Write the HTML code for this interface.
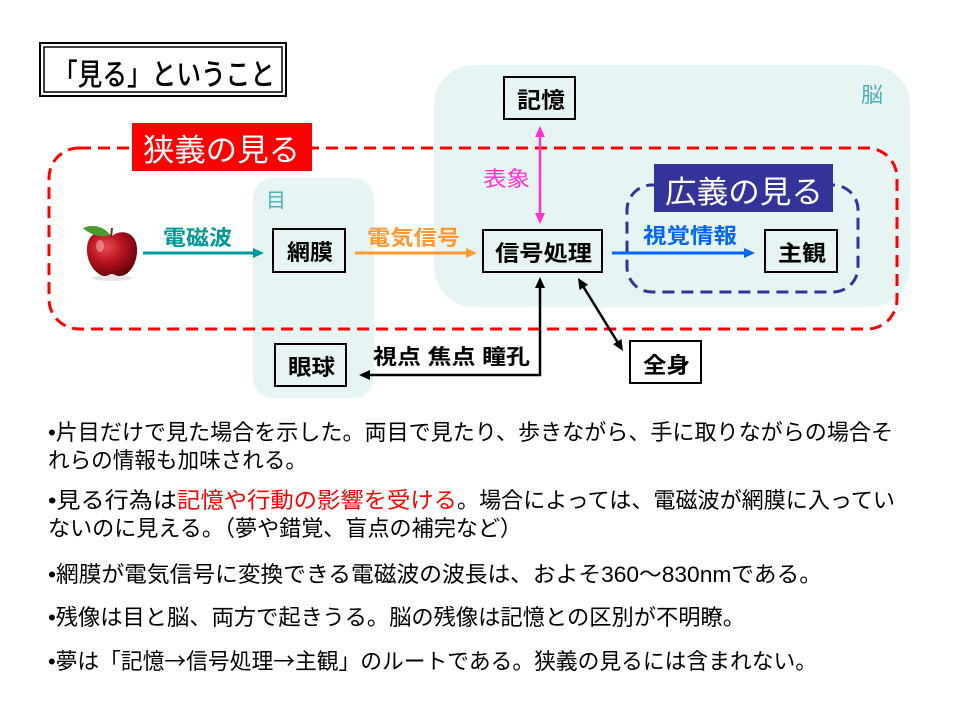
<!DOCTYPE html>
<html><head><meta charset="utf-8"><style>
html,body{margin:0;padding:0;background:#fff;}
svg{display:block;}
text{font-family:"Liberation Sans","Noto Sans CJK JP",sans-serif;}
.cjk{font-family:"Noto Sans CJK JP",sans-serif;}
</style></head><body>
<svg width="960" height="720" viewBox="0 0 960 720" xmlns="http://www.w3.org/2000/svg">
<defs>
<radialGradient id="ag" cx="0.38" cy="0.35" r="0.75">
<stop offset="0" stop-color="#ec4a52"/>
<stop offset="0.45" stop-color="#b81420"/>
<stop offset="1" stop-color="#560008"/>
</radialGradient>
</defs>
<rect width="960" height="720" fill="#fff"/>

<!-- Title -->
<rect x="40" y="43" width="246" height="53" fill="#fff" stroke="#000" stroke-width="2"/>
<rect x="44" y="47" width="238" height="45" fill="none" stroke="#000" stroke-width="1.5"/>
<text x="53" y="85" font-size="30" font-weight="500" textLength="222" lengthAdjust="spacingAndGlyphs" fill="#000">「見る」ということ</text>

<!-- Regions -->
<rect x="434" y="65" width="476" height="242" rx="40" fill="#E7F4F4"/>
<rect x="253" y="178" width="121" height="220" rx="20" fill="#E7F4F4"/>
<text x="861" y="102" font-size="21" fill="#4FAFB8" textLength="22" lengthAdjust="spacingAndGlyphs">脳</text>
<text x="266" y="207" font-size="20" fill="#4FAFB8">目</text>

<!-- Red dashed -->
<rect x="49" y="148" width="848" height="181" rx="30" fill="none" stroke="#FF0000" stroke-width="3" stroke-dasharray="12 7"/>
<rect x="132" y="123" width="180" height="48" fill="#FF0000"/>
<text x="143" y="161" font-size="31" fill="#fff" textLength="157" lengthAdjust="spacingAndGlyphs">狭義の見る</text>

<!-- Blue dashed -->
<rect x="627" y="185" width="231" height="107" rx="25" fill="none" stroke="#333399" stroke-width="3" stroke-dasharray="12 7"/>
<rect x="654" y="164" width="179" height="48" fill="#333399"/>
<text x="665" y="203" font-size="31" fill="#fff" textLength="158" lengthAdjust="spacingAndGlyphs">広義の見る</text>

<!-- Apple -->
<ellipse cx="112" cy="278" rx="20" ry="3" fill="#e4e4e4"/>
<path d="M112,236 C104,229 88,230 87,248 C86,264 98,277 106,276 C109,275 111,274 112,274 C114,274 116,276 119,276 C128,277 138,264 137,248 C136,231 120,229 112,236 Z" fill="url(#ag)"/>
<ellipse cx="100" cy="246" rx="4" ry="6" fill="#fff" opacity="0.35"/>
<line x1="111" y1="237" x2="112" y2="228" stroke="#5a3a10" stroke-width="2"/>
<path d="M110,235 C104,226 92,224 83,228 C90,235 102,238 110,235 Z" fill="#4a9a30"/>

<!-- Boxes -->
<rect x="273" y="229" width="72" height="43" fill="none" stroke="#000" stroke-width="2"/>
<text x="287" y="260" font-size="22" font-weight="700" textLength="46" lengthAdjust="spacingAndGlyphs">網膜</text>
<rect x="504" y="77" width="71" height="42" fill="none" stroke="#000" stroke-width="2"/>
<text x="517" y="108" font-size="22" font-weight="700" textLength="48" lengthAdjust="spacingAndGlyphs">記憶</text>
<rect x="483" y="230" width="119" height="42" fill="none" stroke="#000" stroke-width="2"/>
<text x="495" y="261" font-size="22" font-weight="700" textLength="97" lengthAdjust="spacingAndGlyphs">信号処理</text>
<rect x="765" y="230" width="72" height="42" fill="none" stroke="#000" stroke-width="2"/>
<text x="778" y="261" font-size="22" font-weight="700" textLength="48" lengthAdjust="spacingAndGlyphs">主観</text>
<rect x="275" y="344" width="71" height="42" fill="none" stroke="#000" stroke-width="2"/>
<text x="288" y="375" font-size="22" font-weight="700" textLength="47" lengthAdjust="spacingAndGlyphs">眼球</text>
<rect x="630" y="341" width="71" height="42" fill="#fff" stroke="#000" stroke-width="2"/>
<text x="643" y="373" font-size="22" font-weight="700" textLength="47" lengthAdjust="spacingAndGlyphs">全身</text>

<!-- Teal arrow -->
<line x1="143" y1="253" x2="255" y2="253" stroke="#009999" stroke-width="3"/>
<polygon points="264,253 253,248 253,258" fill="#009999"/>
<text x="163" y="245" font-size="21" font-weight="700" fill="#009999" textLength="69" lengthAdjust="spacingAndGlyphs">電磁波</text>

<!-- Orange arrow -->
<line x1="355" y1="253" x2="468" y2="253" stroke="#FF9933" stroke-width="3"/>
<polygon points="477,253 466,248 466,258" fill="#FF9933"/>
<text x="367" y="245" font-size="21" font-weight="700" fill="#FF9933" textLength="93" lengthAdjust="spacingAndGlyphs">電気信号</text>

<!-- Blue arrow -->
<line x1="612" y1="253" x2="746" y2="253" stroke="#0066FF" stroke-width="3"/>
<polygon points="755,253 744,248 744,258" fill="#0066FF"/>
<text x="643" y="243" font-size="21" font-weight="700" fill="#0066FF" textLength="94" lengthAdjust="spacingAndGlyphs">視覚情報</text>

<!-- Pink double arrow -->
<line x1="540" y1="135" x2="540" y2="215" stroke="#FF33CC" stroke-width="2.5"/>
<polygon points="540,126 535,137 545,137" fill="#FF33CC"/>
<polygon points="540,224 535,213 545,213" fill="#FF33CC"/>
<text x="483" y="186" font-size="21" fill="#FF33CC" textLength="47" lengthAdjust="spacingAndGlyphs">表象</text>

<!-- Black elbow arrow -->
<polyline points="540,287 540,375 369,375" fill="none" stroke="#000" stroke-width="2.5"/>
<polygon points="540,277 535,288 545,288" fill="#000"/>
<polygon points="359,375 370,370 370,380" fill="#000"/>
<text x="373" y="364" font-size="21" font-weight="700" textLength="157" lengthAdjust="spacingAndGlyphs">視点 焦点 瞳孔</text>

<!-- Diagonal arrow -->
<line x1="583.8" y1="287.4" x2="617.2" y2="341.6" stroke="#000" stroke-width="2.5"/>
<polygon points="578,278 579.5,290 588.1,284.8" fill="#000"/>
<polygon points="623,351 613,344.2 621.5,339" fill="#000"/>

<!-- Bullet text -->
<g font-size="22" fill="#000">
<text x="48" y="440" textLength="845" lengthAdjust="spacingAndGlyphs">•片目だけで見た場合を示した。両目で見たり、歩きながら、手に取りながらの場合そ</text>
<text x="48" y="468" textLength="259" lengthAdjust="spacingAndGlyphs">れらの情報も加味される。</text>
<text x="48" y="508" textLength="129" lengthAdjust="spacingAndGlyphs">•見る行為は</text>
<text x="177" y="508" textLength="280" lengthAdjust="spacingAndGlyphs" fill="#FF0000">記憶や行動の影響を受ける</text>
<text x="457" y="508" textLength="438" lengthAdjust="spacingAndGlyphs">。場合によっては、電磁波が網膜に入ってい</text>
<text x="48" y="536" textLength="474" lengthAdjust="spacingAndGlyphs">ないのに見える。（夢や錯覚、盲点の補完など）</text>
<text x="48" y="582" textLength="774" lengthAdjust="spacingAndGlyphs">•網膜が電気信号に変換できる電磁波の波長は、およそ360～830nmである。</text>
<text x="48" y="625" textLength="697" lengthAdjust="spacingAndGlyphs">•残像は目と脳、両方で起きうる。脳の残像は記憶との区別が不明瞭。</text>
<text x="48" y="669" textLength="769" lengthAdjust="spacingAndGlyphs">•夢は「記憶<tspan class="cjk">→</tspan>信号処理<tspan class="cjk">→</tspan>主観」のルートである。狭義の見るには含まれない。</text>
</g>
</svg>
</body></html>
